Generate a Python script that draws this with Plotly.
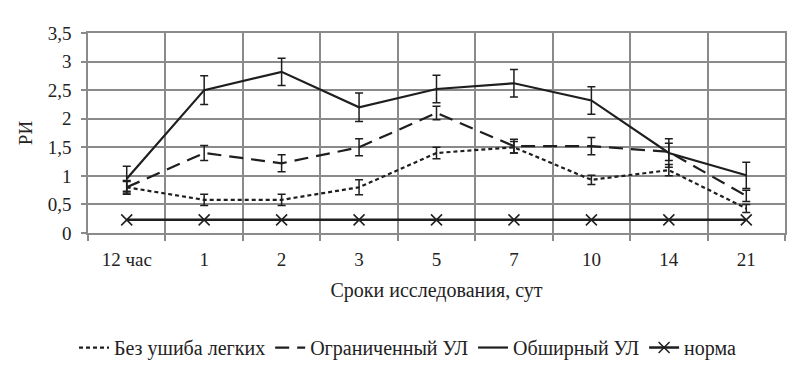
import plotly.graph_objects as go

categories = ["12 час", "1", "2", "3", "5", "7", "10", "14", "21"]

no_contusion = [0.8, 0.58, 0.58, 0.8, 1.4, 1.5, 0.93, 1.1, 0.43]
no_contusion_err = [0.1, 0.1, 0.1, 0.13, 0.1, 0.1, 0.08, 0.1, 0.07]

limited = [0.8, 1.4, 1.22, 1.5, 2.1, 1.52, 1.52, 1.42, 0.65]
limited_err = [0.12, 0.13, 0.15, 0.15, 0.12, 0.12, 0.15, 0.15, 0.1]

extensive = [0.95, 2.5, 2.82, 2.2, 2.52, 2.62, 2.32, 1.4, 1.01]
extensive_err = [0.22, 0.25, 0.24, 0.25, 0.24, 0.24, 0.24, 0.25, 0.23]

norm = [0.23, 0.23, 0.23, 0.23, 0.23, 0.23, 0.23, 0.23, 0.23]

names = ["Без ушиба легких", "Ограниченный УЛ", "Обширный УЛ", "норма"]
y_ticks = [0, 0.5, 1, 1.5, 2, 2.5, 3, 3.5]
y_tick_text = ["0", "0,5", "1", "1,5", "2", "2,5", "3", "3,5"]

LINE = "#1e1e1e"
GRID = "#8a8a8a"
FONT = "'Liberation Serif', 'Times New Roman', serif"
TXT = "#222"

fig = go.Figure()

fig.add_trace(go.Scatter(
    x=categories, y=no_contusion, name=names[0], mode="lines",
    line=dict(color=LINE, width=2.2, dash="4px,3px"),
    error_y=dict(type="data", array=no_contusion_err, visible=True,
                 color=LINE, thickness=1.5, width=4),
))
fig.add_trace(go.Scatter(
    x=categories, y=limited, name=names[1], mode="lines",
    line=dict(color=LINE, width=2.2, dash="14px,8px"),
    error_y=dict(type="data", array=limited_err, visible=True,
                 color=LINE, thickness=1.5, width=4),
))
fig.add_trace(go.Scatter(
    x=categories, y=extensive, name=names[2], mode="lines",
    line=dict(color=LINE, width=2.2),
    error_y=dict(type="data", array=extensive_err, visible=True,
                 color=LINE, thickness=1.5, width=4),
))
fig.add_trace(go.Scatter(
    x=categories, y=norm, name=names[3], mode="lines+markers",
    line=dict(color=LINE, width=2.5),
    marker=dict(symbol="x-thin", size=11, line=dict(color=LINE, width=1.5)),
))

fig.update_layout(
    width=800, height=376,
    margin=dict(l=80, r=23, t=25, b=151),
    paper_bgcolor="white", plot_bgcolor="white",
    font=dict(family=FONT, size=19, color=TXT),
    separators=", ",
    showlegend=True,
    legend=dict(orientation="h", x=0.5, xanchor="center", xref="container",
                y=0.097, yanchor="middle", yref="container",
                font=dict(family=FONT, size=20, color=TXT),
                itemwidth=30, traceorder="normal", tracegroupgap=0),
    xaxis=dict(
        type="category", tickson="boundaries", range=[-0.5, 8.5], automargin=False,
        showgrid=True, gridcolor=GRID, gridwidth=1.5,
        showline=True, linecolor=GRID, linewidth=1.5, mirror=True,
        ticks="outside", ticklen=6, tickcolor=GRID, tickwidth=1.5,
        ticklabelstandoff=8,
        tickfont=dict(family=FONT, size=19, color=TXT),
        title=dict(text="Сроки исследования, сут", standoff=14,
                   font=dict(family=FONT, size=20, color=TXT)),
    ),
    yaxis=dict(
        range=[0, 3.5], tickvals=y_ticks, ticktext=y_tick_text, automargin=False,
        showgrid=True, gridcolor=GRID, gridwidth=1.5, zeroline=False,
        showline=True, linecolor=GRID, linewidth=1.5, mirror=True,
        ticks="outside", ticklen=5, tickcolor=GRID, tickwidth=1.5,
        ticklabelstandoff=6,
        tickfont=dict(family=FONT, size=19, color=TXT),
        title=dict(text="РИ", standoff=10, font=dict(family=FONT, size=19, color=TXT)),
    ),
)

fig.write_html("out.html")
